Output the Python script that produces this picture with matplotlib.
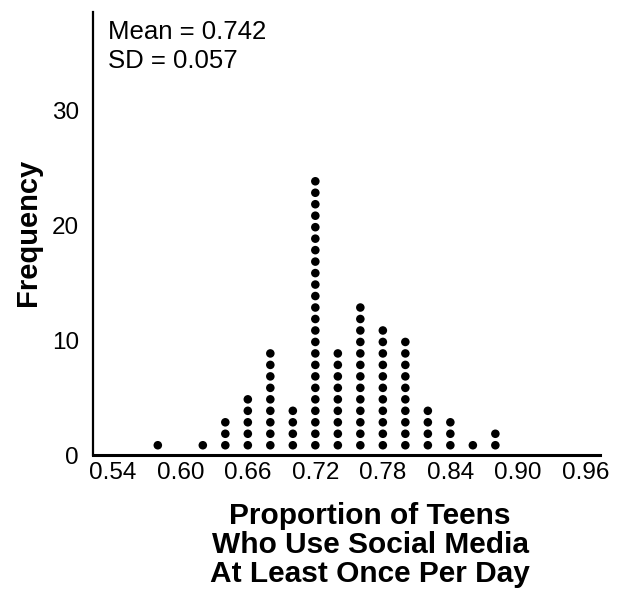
import matplotlib
matplotlib.use("Agg")
import matplotlib.pyplot as plt
import numpy as np

plt.rcParams['font.family'] = ['Liberation Sans', 'DejaVu Sans']

proportions = [0.58, 0.62, 0.64, 0.66, 0.68, 0.70, 0.72, 0.74, 0.76, 0.78, 0.80, 0.82, 0.84, 0.86, 0.88]
counts = [1, 1, 3, 5, 9, 4, 24, 9, 13, 11, 10, 4, 3, 1, 2]
x_ticks = [0.54, 0.60, 0.66, 0.72, 0.78, 0.84, 0.90, 0.96]
x_ticklabels = ["0.54", "0.60", "0.66", "0.72", "0.78", "0.84", "0.90", "0.96"]
y_ticks = [0, 10, 20, 30]
stats_text = "Mean = 0.742\nSD = 0.057"
x_label = "Proportion of Teens\nWho Use Social Media\nAt Least Once Per Day"
y_label = "Frequency"

fig = plt.figure(figsize=(6.18, 5.93), dpi=100)
ax = fig.add_axes([93/618, 1-455/593, (600-93)/618, (455-12)/593])

xs, ys = [], []
for p, c in zip(proportions, counts):
    for i in range(1, c + 1):
        xs.append(p)
        ys.append(i - 0.15)
ax.scatter(xs, ys, s=38, color='black', edgecolors='none', zorder=3)

ax.set_xlim(0.5224, 0.973)
ax.set_ylim(0, 38.6)
ax.set_xticks(x_ticks)
ax.set_xticklabels(x_ticklabels)
ax.set_yticks(y_ticks)
ax.tick_params(axis='both', length=0, labelsize=17.5, colors='black')
ax.tick_params(axis='x', pad=5)
ax.tick_params(axis='y', pad=10)
for s in ['top', 'right']:
    ax.spines[s].set_visible(False)
ax.spines['left'].set_linewidth(1.6)
ax.spines['bottom'].set_linewidth(2.2)

ax.text(108/618, 1-20/593, stats_text, transform=fig.transFigure, fontsize=18.5,
        va='top', ha='left', linespacing=1.25)

fig.text(28/618, 1-232/593, y_label, rotation=90, fontsize=21, fontweight='bold',
         ha='center', va='center')
fig.text(370/618, 1-545/593, x_label, fontsize=21.5, fontweight='bold',
         ha='center', va='center', linespacing=1.05)

fig.savefig("out.png", dpi=100, facecolor='white')
